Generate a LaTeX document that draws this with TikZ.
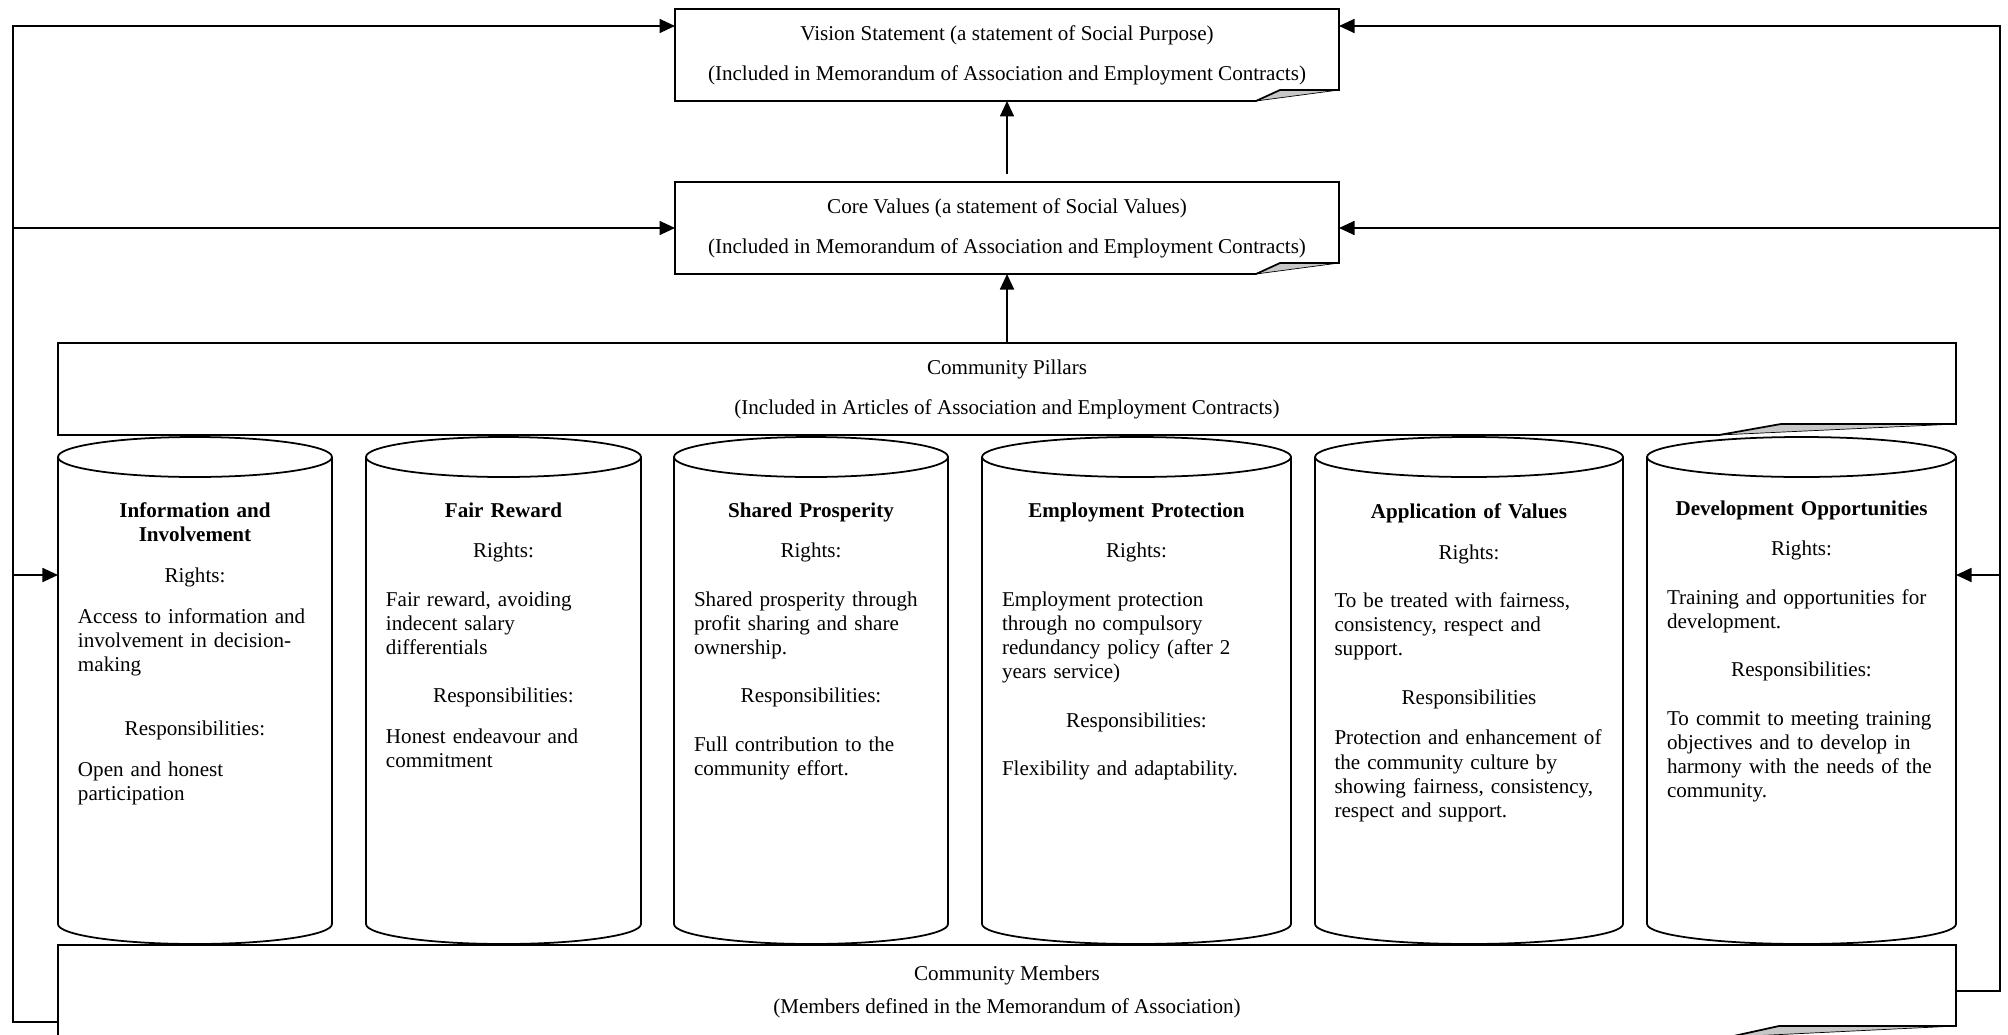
\documentclass[tikz,border=0pt]{standalone}
\usepackage{fontspec}
\setmainfont{Liberation Serif}
\usepackage{tikz}
\usetikzlibrary{positioning,arrows.meta,calc}
\setlength{\parindent}{0pt}

\newcommand{\ptitle}[1]{{\centering\bfseries #1\par}}
\newcommand{\plabel}[1]{{\centering #1\par}}
\newcommand{\gapS}{\vspace{9.4pt}}
\newcommand{\gapL}{\vspace{13.7pt}}
% box outline with the bottom right corner folded up
\newcommand{\foldcorner}[3]{%
  \fill[black!22] ([xshift=-#2]#1.south east) -- ([xshift=-#3,yshift=2.2mm]#1.south east)
    -- ([yshift=2.2mm]#1.south east) -- cycle;
  \draw[line width=0.4pt] ([xshift=-#2]#1.south east) -- ([yshift=2.2mm]#1.south east);
  \draw (#1.north west) -- (#1.north east) -- ([yshift=2.2mm]#1.south east)
    -- ([xshift=-#3,yshift=2.2mm]#1.south east) -- ([xshift=-#2]#1.south east)
    -- (#1.south west) -- cycle;
}

\begin{document}
\begin{tikzpicture}[
    x=0.2mm, y=-0.2mm,
    line width=1pt,
    font=\fontsize{12pt}{13.8pt}\selectfont,
    box/.style={rectangle, minimum width=132.8mm, minimum height=18.4mm, align=center, inner sep=0pt, outer sep=0pt},
    wide/.style={box, minimum width=379.6mm},
    pillar/.style={rectangle, minimum height=101.4mm, inner sep=0pt, outer sep=0pt},
    ptext/.style={anchor=north, inner sep=0pt, align=left},
    >={Triangle[length=3.1mm,width=2.8mm]}
]
\useasboundingbox (0,0) rectangle (2008,1035);

% statements
\node[box] (vision) at (1007,55) {Vision Statement (a statement of Social Purpose)\\[9pt](Included in Memorandum of Association and Employment Contracts)};
\node[box, below=16.2mm of vision] (core) {Core Values (a statement of Social Values)\\[9pt](Included in Memorandum of Association and Employment Contracts)};
\node[wide, below=13.8mm of core] (pillars) {Community Pillars\\[9pt](Included in Articles of Association and Employment Contracts)};

% the six pillars
\node[pillar, minimum width=54.8mm, anchor=north west] (info) at ([yshift=-0.4mm]pillars.south west) {};
\node[pillar, minimum width=55mm, right=6.8mm of info] (fair) {};
\node[pillar, minimum width=54.8mm, right=6.6mm of fair] (shared) {};
\node[pillar, minimum width=61.8mm, right=6.8mm of shared] (employ) {};
\node[pillar, minimum width=61.6mm, right=4.8mm of employ] (apply) {};
\node[pillar, minimum width=61.8mm, right=4.8mm of apply] (devel) {};

\node[wide, anchor=north west] (members) at ([yshift=-0.2mm]info.south west) {\\[-4pt]Community Members\\[5pt](Members defined in the Memorandum of Association)};

\foldcorner{vision}{16.6mm}{11.8mm}
\foldcorner{core}{16.6mm}{11.8mm}
\foldcorner{pillars}{47.4mm}{35mm}
\foldcorner{members}{45.4mm}{35.4mm}

\foreach \pl in {info,fair,shared,employ,apply,devel}{
  \draw let \p1=(\pl.west), \p2=(\pl.east), \n1={(\x2-\x1)/2} in
    ([yshift=-4mm]\pl.north west) -- ([yshift=4mm]\pl.south west)
    arc[start angle=180, end angle=360, x radius=\n1, y radius=4mm]
    -- ([yshift=-4mm]\pl.north east)
    ([yshift=-4mm]\pl.north) ellipse[x radius=\n1, y radius=4mm];
}

% pillar texts
\node[ptext, text width=46.8mm] (infotxt) at ([yshift=-12.9mm]info.north) {%
  \ptitle{Information and\\Involvement}\gapS
  \plabel{Rights:}\gapS
  Access to information and\\involvement in decision-\\making\par\vspace{22.5pt}
  \plabel{Responsibilities:}\gapS
  Open and honest\\participation\par};
\node[ptext, text width=47mm] (fairtxt) at ([yshift=-12.9mm]fair.north) {%
  \ptitle{Fair Reward}\gapS
  \plabel{Rights:}\gapL
  Fair reward, avoiding\\indecent salary\\differentials\par\gapL
  \plabel{Responsibilities:}\gapS
  Honest endeavour and\\commitment\par};
\node[ptext, text width=46.8mm] (sharedtxt) at ([yshift=-12.9mm]shared.north) {%
  \ptitle{Shared Prosperity}\gapS
  \plabel{Rights:}\gapL
  Shared prosperity through\\profit sharing and share\\ownership.\par\gapL
  \plabel{Responsibilities:}\gapL
  Full contribution to the\\community effort.\par};
\node[ptext, text width=53.8mm] (employtxt) at ([yshift=-12.9mm]employ.north) {%
  \ptitle{Employment Protection}\gapS
  \plabel{Rights:}\gapL
  Employment protection\\through no compulsory\\redundancy policy (after 2\\years service)\par\gapL
  \plabel{Responsibilities:}\gapL
  Flexibility and adaptability.\par};
\node[ptext, text width=53.8mm] (applytxt) at ([yshift=-13.1mm]apply.north) {%
  \ptitle{Application of Values}\gapS
  \plabel{Rights:}\gapL
  To be treated with fairness,\\consistency, respect and\\support.\par\gapL
  \plabel{Responsibilities}\gapS
  Protection and enhancement of\\the community culture by\\showing fairness, consistency,\\respect and support.\par};
\node[ptext, text width=53.8mm] (develtxt) at ([yshift=-12.5mm]devel.north) {%
  \ptitle{Development Opportunities}\gapS
  \plabel{Rights:}\gapL
  Training and opportunities for\\development.\par\gapL
  \plabel{Responsibilities:}\gapL
  To commit to meeting training\\objectives and to develop in\\harmony with the needs of the\\community.\par};

% feedback loops
\coordinate (lbus) at (13,1022);
\coordinate (rbus) at (2000,991);
\coordinate (visionl) at ([yshift=-3.4mm]vision.north west);
\coordinate (visionr) at ([yshift=-3.4mm]vision.north east);
\coordinate (infoin) at ([yshift=-27.6mm]info.north west);
\coordinate (develin) at ([yshift=-27.6mm]devel.north east);

\draw[->] ([yshift=3mm]members.south west) -- (lbus) |- (visionl);
\draw[->] (lbus |- core.west) -- (core.west);
\draw[->] (lbus |- infoin) -- (infoin);
\draw[->] (members.east) -- (rbus) |- (visionr);
\draw[->] (rbus |- core.east) -- (core.east);
\draw[->] (rbus |- develin) -- (develin);

\draw[->, shorten <=1.6mm] (core) -- (vision);
\draw[->] (pillars) -- (core);

\end{tikzpicture}
\end{document}
